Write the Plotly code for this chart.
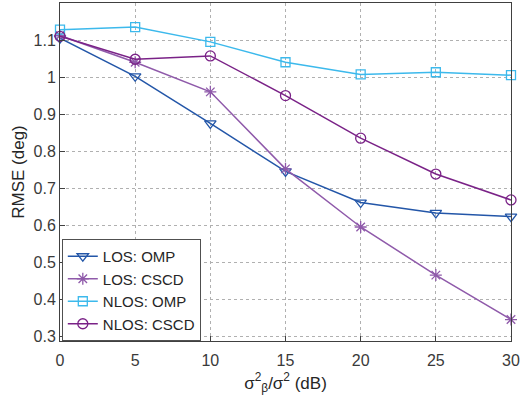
import plotly.graph_objects as go

snr_db = [0, 5, 10, 15, 20, 25, 30]
los_omp = [1.105, 1.002, 0.875, 0.745, 0.661, 0.633, 0.623]
los_cscd = [1.112, 1.040, 0.960, 0.752, 0.595, 0.465, 0.345]
nlos_omp = [1.128, 1.135, 1.095, 1.040, 1.007, 1.013, 1.005]
nlos_cscd = [1.110, 1.048, 1.057, 0.950, 0.835, 0.738, 0.668]

x_ticks = [0, 5, 10, 15, 20, 25, 30]
y_ticks = [0.3, 0.4, 0.5, 0.6, 0.7, 0.8, 0.9, 1.0, 1.1]
y_tick_labels = ["0.3", "0.4", "0.5", "0.6", "0.7", "0.8", "0.9", "1", "1.1"]

series = [
    ("LOS: OMP", los_omp, "#2356a8", "triangle-down-open", 10),
    ("LOS: CSCD", los_cscd, "#8f5aaa", "asterisk-open", 10),
    ("NLOS: OMP", nlos_omp, "#3cb9ec", "square-open", 9),
    ("NLOS: CSCD", nlos_cscd, "#7a2287", "circle-open", 10),
]

fig = go.Figure()
for name, vals, color, sym, sz in series:
    fig.add_trace(go.Scatter(
        x=snr_db, y=vals, name=name, mode="lines+markers",
        line=dict(color=color, width=1.5),
        marker=dict(symbol=sym, size=sz, color=color, line=dict(width=1.3, color=color)),
        cliponaxis=False,
    ))

axis_common = dict(
    showline=True, linecolor="#404040", linewidth=1, mirror=True,
    ticks="inside", ticklen=5, tickcolor="#404040",
    showgrid=True, gridcolor="#b0b0b0", griddash="dot", gridwidth=1,
    zeroline=False, automargin=False,
    tickfont=dict(family="Liberation Sans, Arial", size=16, color="#3a3a3a"),
)

fig.update_layout(
    width=520, height=409,
    margin=dict(l=60, r=9, t=3, b=68),
    paper_bgcolor="white", plot_bgcolor="white",
    font=dict(family="Liberation Sans, Arial", color="#262626"),
    xaxis=dict(range=[0, 30], tickvals=x_ticks, ticklabelstandoff=5,
               title=dict(text="σ<sup>2</sup><sub>β</sub>/σ<sup>2</sup> (dB)",
                          font=dict(size=17, color="#262626"), standoff=8),
               **axis_common),
    yaxis=dict(range=[0.287, 1.2], tickvals=y_ticks, ticktext=y_tick_labels,
               title=dict(text="RMSE (deg)", font=dict(size=17, color="#262626"), standoff=4),
               **axis_common),
    legend=dict(x=0.004, y=0.0, xanchor="left", yanchor="bottom",
                bgcolor="white", bordercolor="#505050", borderwidth=1,
                font=dict(family="Liberation Sans, Arial", size=15, color="#262626"),
                tracegroupgap=0, itemwidth=30),
    showlegend=True,
)

fig.write_html("out.html", post_script="document.body.style.margin='0';",
               config={"displayModeBar": False})
